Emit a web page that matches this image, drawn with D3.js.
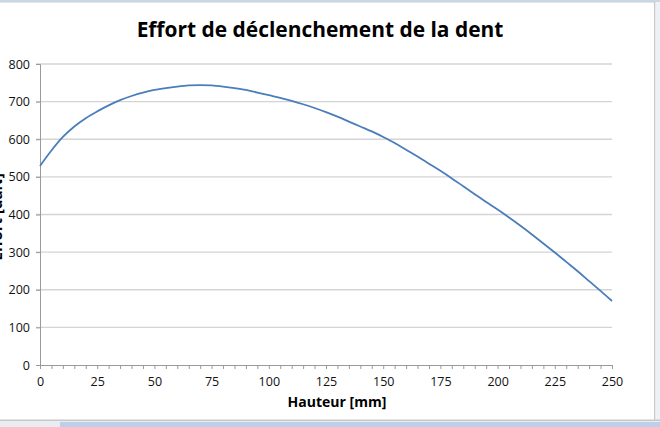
<!DOCTYPE html>
<html>
<head>
<meta charset="utf-8">
<script src="https://cdn.jsdelivr.net/npm/d3@7"></script>
<style>
  html, body { margin: 0; padding: 0; background: #fff; }
  svg { display: block; }
  text { font-family: "Open Sans", "DejaVu Sans", sans-serif; }
</style>
</head>
<body>
<svg id="chart" width="660" height="427"></svg>
<script>
const titleText = "Effort de déclenchement de la dent";
const xLabel = "Hauteur [mm]";
const yLabel = "Effort [daN]";
const hauteur = [0,5,10,15,20,25,30,35,40,45,50,55,60,65,70,75,80,85,90,95,100,
  105,110,115,120,125,130,135,140,145,150,155,160,165,170,175,180,185,190,195,200,
  205,210,215,220,225,230,235,240,245,250];
const effort = [529,570,606,634,656,674,690,704,715,724,731,736,740,743,744,743,740,736,731,724,717,
  710,702,693,683,672,660,647,634,621,606,590,572,554,535,516,496,475,454,433,413,
  392,370,347,323,299,274,249,223,197,170];
const xTickValues = [0,25,50,75,100,125,150,175,200,225,250];
const xMinorTicks = d3.range(0, 251, 5);
const yTickValues = [0,100,200,300,400,500,600,700,800];

const svg = d3.select("#chart");
const W = 660, H = 427;

// window frame remnants
svg.append("rect").attr("x",0).attr("y",0).attr("width",W).attr("height",2).attr("fill","#c9d6e6");
svg.append("rect").attr("x",0).attr("y",2).attr("width",W).attr("height",1).attr("fill","#e4e4e4");
svg.append("rect").attr("x",654).attr("y",2).attr("width",1.5).attr("height",418).attr("fill","#c8c8c8");
svg.append("rect").attr("x",655.5).attr("y",2).attr("width",4.5).attr("height",418).attr("fill","#eef1f5");
svg.append("rect").attr("x",0).attr("y",419.5).attr("width",W).attr("height",1.5).attr("fill","#c8c8c8");
svg.append("rect").attr("x",0).attr("y",421).attr("width",W).attr("height",6).attr("fill","#e9edf2");
svg.append("rect").attr("x",60).attr("y",422).attr("width",W-60).attr("height",5).attr("fill","#bcd0ea");

const x = d3.scaleLinear().domain([0,250]).range([40,612]);
const y = d3.scaleLinear().domain([0,800]).range([365,64]);

// gridlines
svg.append("g")
  .selectAll("line")
  .data(yTickValues.filter(v => v > 0))
  .join("line")
  .attr("x1", 36).attr("x2", x(250))
  .attr("y1", d => y(d)).attr("y2", d => y(d))
  .attr("stroke", "#d4d4d4").attr("stroke-width", 1.4);

// y axis
const yAxis = svg.append("g").attr("transform", `translate(${x(0)},0)`)
  .call(d3.axisLeft(y).tickValues(yTickValues).tickSize(4).tickPadding(6).tickFormat(d3.format("d")));
yAxis.select(".domain").attr("stroke", "#9a9a9a").attr("stroke-width", 1);
yAxis.selectAll(".tick line").attr("stroke", "#9a9a9a");
yAxis.selectAll("text").attr("font-size", 12.5).attr("fill", "#111");

// x axis
const xAxisG = svg.append("g").attr("transform", `translate(0,${y(0)})`);
xAxisG.call(d3.axisBottom(x).tickValues(xMinorTicks).tickSize(4).tickFormat(""));
xAxisG.select(".domain").attr("stroke", "#9a9a9a").attr("d", `M${x(0)-4},0.5H${x(250)}`);
xAxisG.selectAll(".tick line").attr("stroke", "#9a9a9a");
const xLab = svg.append("g").attr("transform", `translate(0,${y(0)})`)
  .call(d3.axisBottom(x).tickValues(xTickValues).tickSize(0).tickPadding(12).tickFormat(d3.format("d")));
xLab.select(".domain").remove();
xLab.selectAll("text").attr("font-size", 12.5).attr("fill", "#111");

// line
svg.append("path")
  .datum(hauteur.map((h,i) => [h, effort[i]]))
  .attr("fill", "none")
  .attr("stroke", "#4a7ebb")
  .attr("stroke-width", 1.8)
  .attr("d", d3.line().curve(d3.curveMonotoneX).x(d => x(d[0])).y(d => y(d[1])));

// title
const t = svg.append("text").attr("x", 320).attr("y", 37)
  .attr("text-anchor", "middle").attr("font-weight", "bold").attr("font-size", 22)
  .attr("fill", "#000").text(titleText);
const tw = t.node().getComputedTextLength();
t.attr("font-size", 22 * 367 / tw);

// x label
const xl = svg.append("text").attr("x", 337).attr("y", 407)
  .attr("text-anchor", "middle").attr("font-weight", "bold").attr("font-size", 15)
  .attr("fill", "#000").text(xLabel);
const xw = xl.node().getComputedTextLength();
xl.attr("font-size", 15 * 99 / xw);

// y label (mostly cut off at the left edge, as in the reference)
svg.append("text").attr("transform", "translate(1.5,217) rotate(-90)")
  .attr("text-anchor", "middle").attr("font-weight", "bold").attr("font-size", 15)
  .attr("fill", "#000").text(yLabel);
</script>
</body>
</html>
